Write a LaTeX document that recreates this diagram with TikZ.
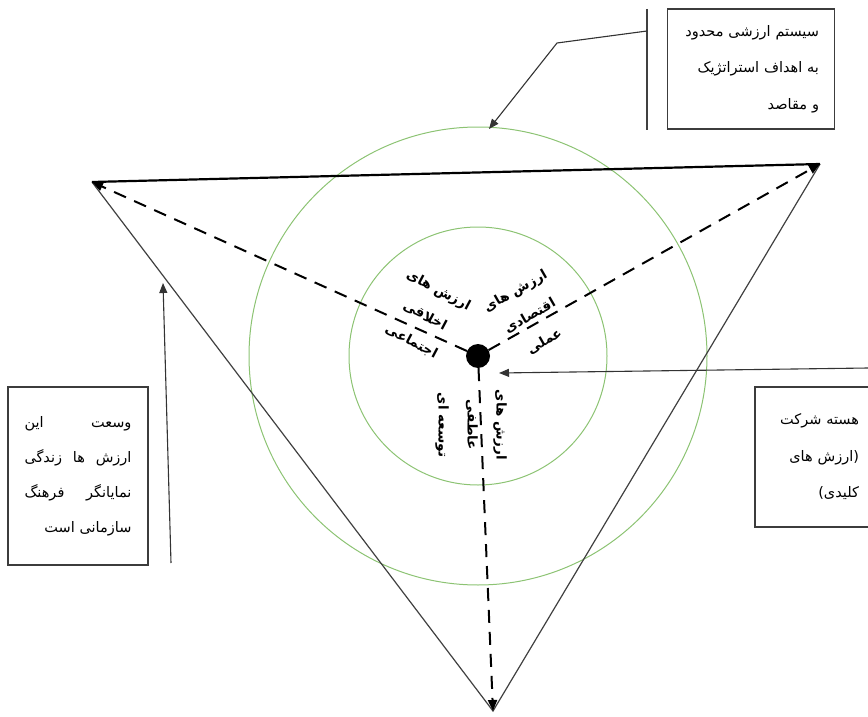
\documentclass[tikz,border=0pt]{standalone}
\usepackage{fontspec}
\usepackage{xcolor}
\usepackage{tikz}
\usetikzlibrary{arrows.meta,positioning}
\TeXXeTstate=1
\newfontfamily\arabicfont[Script=Arabic]{DejaVu Sans}
\newcommand{\fa}[1]{{\arabicfont\beginR #1\endR}}
\definecolor{ringgreen}{RGB}{140,195,115}
\definecolor{boxgray}{RGB}{60,60,60}

\tikzset{
  textbox/.style={draw=boxgray, line width=1.2pt, inner sep=0pt, font=\fontsize{14.5}{36.5}\selectfont, align=right},
  valuelabel/.style={font=\fontsize{13.5}{29}\selectfont\bfseries, align=center, inner sep=0pt},
  callout/.style={draw=black!80, line width=1.1pt, -{Triangle[length=10pt,width=8pt]}},
  dasharrow/.style={line width=2pt, dash pattern=on 13pt off 9pt, -{Triangle[length=11pt,width=9pt]}},
  ring/.style={draw=ringgreen, line width=1pt}
}

\begin{document}
\begin{tikzpicture}[x=1pt, y=-1pt]

\useasboundingbox (0,0) rectangle (868,717);
\clip (0,0) rectangle (868,717);

% Core and triangle corners
\node[circle, fill=black, minimum size=24pt, inner sep=0pt] (core) at (478,356) {};
\coordinate (tl) at (92,182);
\coordinate (tr) at (820,164);
\coordinate (bt) at (493,711);

% Rings
\draw[ring] (core.center) circle[radius=129];
\draw[ring] (core.center) circle[radius=229];

% Triangle
\draw[draw=black!75, line width=1.2pt] (tl) -- (bt) -- (tr);
\draw[line width=2.2pt] (tl) -- (tr);

% Dashed spokes
\draw[dasharrow] (core) -- (tl);
\draw[dasharrow] (core) -- (tr);
\draw[dasharrow] (core) -- (bt);

% Value labels
\node[valuelabel, rotate=-28] (ethical) at (425,316) {\fa{ارزش های}\\\fa{اخلاقی}\\\fa{اجتماعی}};
\node[valuelabel, rotate=30] (economic) at (530,316) {\fa{ارزش های}\\\fa{اقتصادی}\\\fa{عملی}};
\node[valuelabel, rotate=-90] (emotional) at (471,425) {\fa{ارزش های}\\\fa{عاطفی}\\\fa{توسعه ای}};

% Text boxes
\node[textbox, minimum width=167pt, minimum height=120pt, text width=136pt] (goalbox) at (751,69) {
    \fa{سیستم ارزشی محدود}\\
    \fa{به اهداف استراتژیک}\\
    \fa{و مقاصد}
};
\node[textbox, minimum width=140pt, minimum height=178pt, text width=107pt, font=\fontsize{14.5}{35}\selectfont] (culturebox) at (78,476) {
    \makebox[107pt]{\fa{این}\hfill\fa{وسعت}}\\
    \makebox[107pt]{\fa{زندگی}\hfill\fa{ها}\hfill\fa{ارزش}}\\
    \makebox[107pt]{\fa{فرهنگ}\hfill\fa{نمایانگر}}\\
    \fa{سازمانی است}
};
\node[textbox, minimum width=126pt, minimum height=140pt, text width=82pt] (corebox) at (818,457) {
    \fa{هسته شرکت}\\
    \fa{(ارزش های}\\
    \fa{کلیدی)}
};

% Callout arrows
\coordinate (bartop) at (647,9);
\coordinate (barbot) at (647,130);
\coordinate (goaltick) at (647,31);
\coordinate (goalbend) at (557,43);
\coordinate (ringtop) at (489,129);
\draw[draw=black!75, line width=1.2pt] (bartop) -- (barbot);
\draw[callout] (goaltick) -- (goalbend) -- (ringtop);

\coordinate (culturetail) at (171,563);
\coordinate (culturetip) at (163,283);
\draw[callout] (culturetail) -- (culturetip);

\coordinate (coretail) at (868,368);
\coordinate (coretip) at (499,373);
\draw[callout] (coretail) -- (coretip);

\end{tikzpicture}
\end{document}
